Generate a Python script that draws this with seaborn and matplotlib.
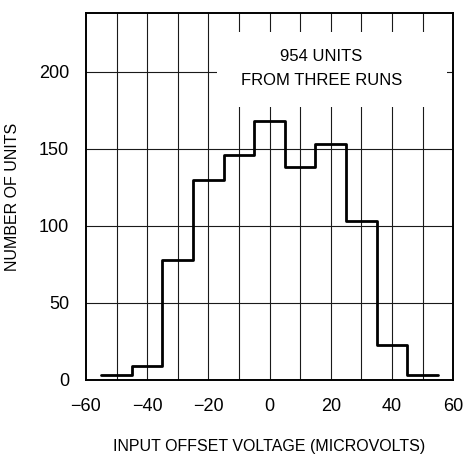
import matplotlib
import numpy as np
import pandas as pd

matplotlib.use("Agg")
import matplotlib.pyplot as plt
import seaborn as sns
from matplotlib import font_manager
from matplotlib.patches import Rectangle

# bin centres (microvolts) and unit counts
bin_centers = [-50, -40, -30, -20, -10, 0, 10, 20, 30, 40, 50]
unit_counts = [3, 9, 78, 130, 146, 168, 138, 153, 103, 23, 3]
bin_edges = [-55, -45, -35, -25, -15, -5, 5, 15, 25, 35, 45, 55]
x_ticks = [-60, -40, -20, 0, 20, 40, 60]
x_tick_labels = ["\u221260", "\u221240", "\u221220", "0", "20", "40", "60"]
y_ticks = [0, 50, 100, 150, 200]


def setup_style() -> None:
    sns.set_theme(style="white")
    installed = {f.name for f in font_manager.fontManager.ttflist}
    preferred = ["Liberation Sans Narrow", "Liberation Sans", "DejaVu Sans"]
    plt.rcParams["font.family"] = [f for f in preferred if f in installed] or ["DejaVu Sans"]
    plt.rcParams["axes.unicode_minus"] = True
    plt.rcParams["text.color"] = "black"
    plt.rcParams["axes.labelcolor"] = "black"


def main() -> None:
    setup_style()
    df = pd.DataFrame({"offset": bin_centers, "count": unit_counts})

    fig = plt.figure(figsize=(4.72, 4.54), dpi=100)
    ax = fig.add_axes([0.182, 0.163, 0.778, 0.808])

    for x in np.arange(-50, 60, 10):
        ax.axvline(x, color="#1a1a1a", lw=0.8, zorder=1)
    for y in y_ticks[1:]:
        ax.axhline(y, color="#1a1a1a", lw=0.8, zorder=1)

    sns.histplot(
        data=df,
        x="offset",
        weights="count",
        bins=bin_edges,
        element="step",
        fill=False,
        color="black",
        linewidth=2.0,
        ax=ax,
        zorder=3,
    )

    # white panel behind the annotation, as in the original figure
    ax.add_patch(Rectangle((-17, 177), 75, 49, facecolor="white", edgecolor="none", zorder=2))
    ax.text(17, 202, "954 UNITS\nFROM THREE RUNS",
            ha="center", va="center", fontsize=12, linespacing=1.7, zorder=4)

    ax.set_xlim(-60, 60)
    ax.set_ylim(0, 238)
    ax.set_xticks(x_ticks)
    ax.set_xticklabels(x_tick_labels)
    ax.set_yticks(y_ticks)
    ax.tick_params(length=0, labelsize=13, colors="black")
    ax.tick_params(axis="x", pad=13)
    ax.tick_params(axis="y", pad=12)
    ax.set_xlabel("INPUT OFFSET VOLTAGE (MICROVOLTS)", fontsize=11.5, labelpad=17)
    ax.set_ylabel("NUMBER OF UNITS", fontsize=11.5, labelpad=14)
    for spine in ax.spines.values():
        spine.set_visible(True)
        spine.set_color("black")
        spine.set_linewidth(1.4)

    fig.savefig("out.png", dpi=100)
    plt.close(fig)


if __name__ == "__main__":
    main()
